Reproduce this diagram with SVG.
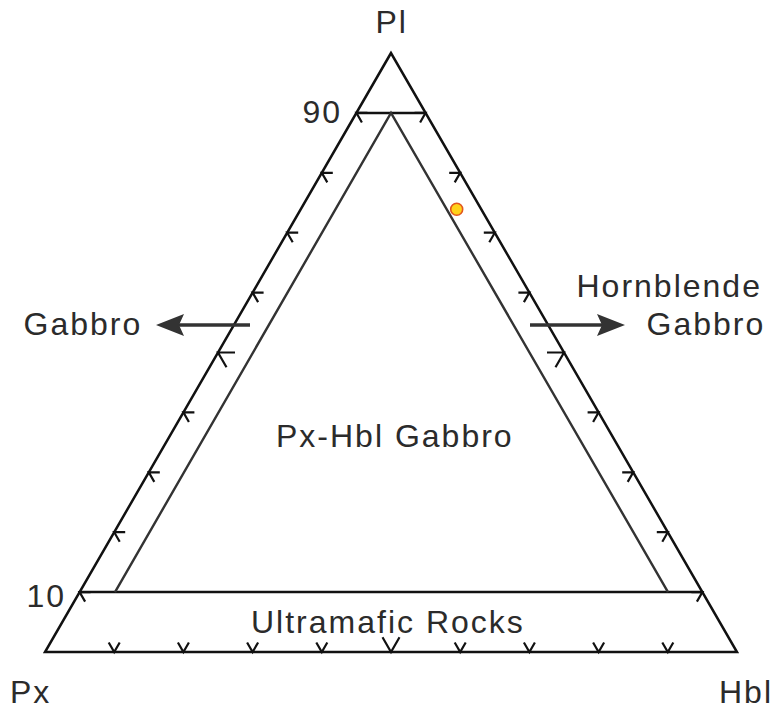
<svg xmlns="http://www.w3.org/2000/svg" width="774" height="711" viewBox="0 0 774 711">
<style>
  .edge{fill:none;stroke:#111;stroke-width:2.5;stroke-linejoin:miter}
  .inner{fill:none;stroke:#333;stroke-width:2.4}
  .tick{fill:none;stroke:#111;stroke-width:2.2;stroke-linejoin:miter;stroke-linecap:butt}
  .lbl{font-family:"Liberation Sans",Arial,sans-serif;font-size:32px;letter-spacing:2px;fill:#2b2b2b}
  .arr{stroke:#333;stroke-width:3.6;fill:none}
  .head{fill:#333;stroke:none}
</style>
<rect width="774" height="711" fill="#fff"/>
<g id="frame">
  <polygon class="edge" points="391,53 45,652 737,652"/>
  <line class="edge" x1="356.4" y1="112.9" x2="425.6" y2="112.9"/>
  <line class="edge" x1="79.6" y1="592.1" x2="702.4" y2="592.1"/>
</g>
<g id="inner-boundaries">
  <polyline class="inner" points="115,592.1 391,112.9 668,592.1"/>
</g>
<g id="ticks">
  <path class="tick" d="M90.6,592.1 L79.6,592.1 L85.1,601.63"/>
  <path class="tick" d="M125.2,532.2 L114.2,532.2 L119.7,541.73"/>
  <path class="tick" d="M159.8,472.3 L148.8,472.3 L154.3,481.83"/>
  <path class="tick" d="M194.4,412.4 L183.4,412.4 L188.9,421.93"/>
  <path class="tick" d="M235,352.5 L218,352.5 L226.5,367.22"/>
  <path class="tick" d="M263.6,292.6 L252.6,292.6 L258.1,302.13"/>
  <path class="tick" d="M298.2,232.7 L287.2,232.7 L292.7,242.23"/>
  <path class="tick" d="M332.8,172.8 L321.8,172.8 L327.3,182.33"/>
  <path class="tick" d="M367.4,112.9 L356.4,112.9 L361.9,122.43"/>

  <path class="tick" d="M691.4,592.1 L702.4,592.1 L696.9,601.63"/>
  <path class="tick" d="M656.8,532.2 L667.8,532.2 L662.3,541.73"/>
  <path class="tick" d="M622.2,472.3 L633.2,472.3 L627.7,481.83"/>
  <path class="tick" d="M587.6,412.4 L598.6,412.4 L593.1,421.93"/>
  <path class="tick" d="M547,352.5 L564,352.5 L555.5,367.22"/>
  <path class="tick" d="M518.4,292.6 L529.4,292.6 L523.9,302.13"/>
  <path class="tick" d="M483.8,232.7 L494.8,232.7 L489.3,242.23"/>
  <path class="tick" d="M449.2,172.8 L460.2,172.8 L454.7,182.33"/>
  <path class="tick" d="M414.6,112.9 L425.6,112.9 L420.1,122.43"/>

  <path class="tick" d="M108.7,642.47 L114.2,652 L119.7,642.47"/>
  <path class="tick" d="M177.9,642.47 L183.4,652 L188.9,642.47"/>
  <path class="tick" d="M247.1,642.47 L252.6,652 L258.1,642.47"/>
  <path class="tick" d="M316.3,642.47 L321.8,652 L327.3,642.47"/>
  <path class="tick" d="M382.5,637.28 L391,652 L399.5,637.28"/>
  <path class="tick" d="M454.7,642.47 L460.2,652 L465.7,642.47"/>
  <path class="tick" d="M523.9,642.47 L529.4,652 L534.9,642.47"/>
  <path class="tick" d="M593.1,642.47 L598.6,652 L604.1,642.47"/>
  <path class="tick" d="M662.3,642.47 L667.8,652 L673.3,642.47"/>
</g>
<g id="connectors">
  <g id="arrow-gabbro">
    <line class="arr" x1="250" y1="325" x2="178" y2="325"/>
    <path class="head" d="M156,325 L184,314 L179,325 L184,336 Z"/>
  </g>
  <g id="arrow-hbl-gabbro">
    <line class="arr" x1="530" y1="325" x2="603" y2="325"/>
    <path class="head" d="M625,325 L597,314 L602,325 L597,336 Z"/>
  </g>
</g>
<g id="node-pl"><text class="lbl" x="375.5" y="33">Pl</text></g>
<g id="node-px"><text class="lbl" x="10" y="703">Px</text></g>
<g id="node-hbl"><text class="lbl" x="719" y="703">Hbl</text></g>
<g id="label-90"><text class="lbl" x="302.5" y="123">90</text></g>
<g id="label-10"><text class="lbl" x="26.5" y="607">10</text></g>
<g id="node-gabbro"><text class="lbl" x="23.5" y="335">Gabbro</text></g>
<g id="node-hornblende-gabbro">
  <text class="lbl" x="576.5" y="296.5">Hornblende</text>
  <text class="lbl" x="646.5" y="335">Gabbro</text>
</g>
<g id="node-px-hbl-gabbro"><text class="lbl" x="276" y="446.5">Px-Hbl Gabbro</text></g>
<g id="node-ultramafic"><text class="lbl" x="251" y="633">Ultramafic Rocks</text></g>
<g id="sample">
  <circle cx="456.7" cy="209.3" r="6" fill="#ffd21a" stroke="#e2571e" stroke-width="1.6"/>
</g>
</svg>
